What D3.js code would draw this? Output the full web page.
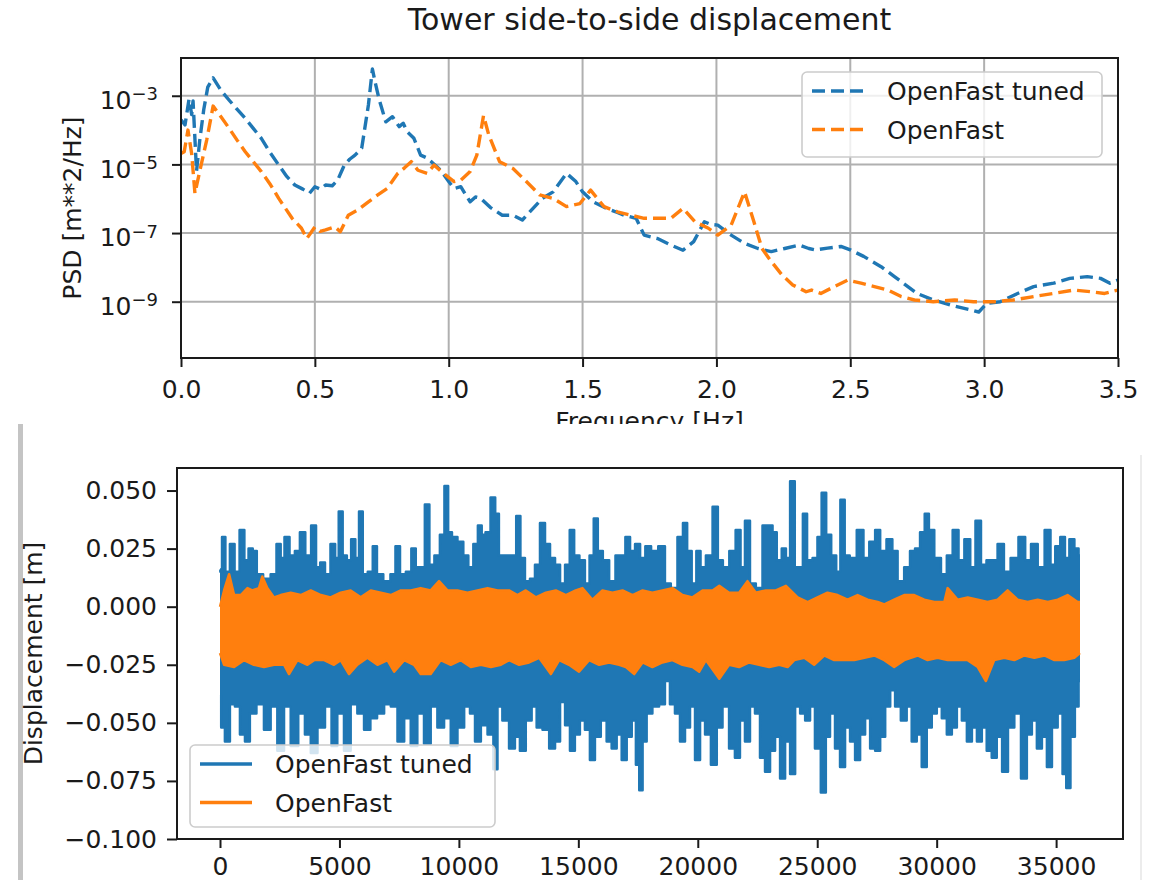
<!DOCTYPE html>
<html>
<head>
<meta charset="utf-8">
<script src="https://cdn.jsdelivr.net/npm/d3@7"></script>
<style>
  body { margin: 0; background: #fff; }
  svg { display: block; font-family: "DejaVu Sans", sans-serif; }
</style>
</head>
<body>
<svg id="chart" width="1153" height="880"></svg>
<script>
const blue = "#1f77b4";
const orange = "#ff7f0e";
const ink = "#1a1a1a";

const seriesNames = ["OpenFast tuned", "OpenFast"];
const freqTicks = [0, 0.5, 1, 1.5, 2, 2.5, 3, 3.5];
const psdTicks = [1e-3, 1e-5, 1e-7, 1e-9];
const timeTicks = [0, 5000, 10000, 15000, 20000, 25000, 30000, 35000];
const dispTicks = [0.05, 0.025, 0, -0.025, -0.05, -0.075, -0.1];

// PSD: [frequency Hz, log10(PSD m**2/Hz)]
const psdTuned = [
  [0.000,-3.70],[0.015,-3.85],[0.030,-3.10],[0.040,-3.55],[0.045,-3.15],[0.058,-5.20],[0.070,-4.30],[0.085,-3.40],
  [0.100,-2.75],[0.120,-2.48],[0.150,-2.85],[0.180,-3.13],[0.210,-3.40],[0.240,-3.66],[0.270,-3.95],[0.300,-4.24],
  [0.330,-4.62],[0.365,-5.02],[0.395,-5.35],[0.425,-5.60],[0.455,-5.72],[0.480,-5.84],[0.500,-5.65],[0.520,-5.72],
  [0.540,-5.60],[0.565,-5.62],[0.585,-5.46],[0.610,-5.02],[0.630,-4.85],[0.650,-4.73],[0.675,-4.53],[0.700,-3.27],
  [0.715,-2.22],[0.725,-2.60],[0.740,-3.10],[0.765,-3.76],[0.790,-3.61],[0.815,-3.90],[0.830,-3.80],[0.845,-4.05],
  [0.870,-4.24],[0.895,-4.73],[0.915,-4.80],[0.935,-4.92],[0.970,-5.17],[1.000,-5.50],[1.020,-5.70],[1.045,-5.65],
  [1.080,-6.09],[1.100,-5.95],[1.120,-5.99],[1.155,-6.25],[1.200,-6.48],[1.240,-6.48],[1.275,-6.62],[1.315,-6.28],
  [1.350,-5.99],[1.390,-5.80],[1.440,-5.26],[1.475,-5.50],[1.500,-5.80],[1.540,-6.09],[1.590,-6.28],[1.630,-6.40],
  [1.655,-6.48],[1.700,-6.57],[1.730,-7.06],[1.780,-7.16],[1.830,-7.35],[1.875,-7.50],[1.915,-7.25],[1.955,-6.67],
  [1.980,-6.75],[2.005,-6.77],[2.055,-7.06],[2.105,-7.30],[2.155,-7.45],[2.205,-7.54],[2.255,-7.45],[2.310,-7.35],
  [2.345,-7.45],[2.370,-7.49],[2.415,-7.44],[2.465,-7.39],[2.500,-7.49],[2.550,-7.68],[2.615,-7.98],[2.665,-8.27],
  [2.715,-8.56],[2.750,-8.76],[2.810,-8.95],[2.875,-9.10],[2.950,-9.24],[2.980,-9.30],[3.010,-9.05],[3.060,-9.00],
  [3.125,-8.76],[3.185,-8.56],[3.260,-8.46],[3.320,-8.32],[3.385,-8.27],[3.435,-8.32],[3.470,-8.46],[3.500,-8.37]
];
const psdBase = [
  [0.000,-4.68],[0.012,-4.63],[0.026,-4.00],[0.040,-4.70],[0.052,-5.84],[0.070,-5.20],[0.096,-4.29],[0.120,-3.30],
  [0.150,-3.62],[0.180,-3.95],[0.210,-4.30],[0.240,-4.63],[0.270,-4.92],[0.300,-5.21],[0.335,-5.60],[0.365,-5.99],
  [0.415,-6.57],[0.450,-6.86],[0.470,-7.16],[0.500,-6.82],[0.520,-6.95],[0.540,-6.91],[0.575,-6.82],[0.595,-6.96],
  [0.625,-6.48],[0.660,-6.33],[0.700,-6.09],[0.735,-5.89],[0.770,-5.70],[0.810,-5.26],[0.835,-5.10],[0.860,-4.92],
  [0.885,-5.17],[0.920,-5.26],[0.945,-5.02],[0.980,-5.26],[1.020,-5.50],[1.045,-5.46],[1.080,-5.21],[1.105,-4.73],
  [1.130,-3.58],[1.150,-4.15],[1.190,-4.92],[1.240,-5.12],[1.290,-5.50],[1.340,-5.89],[1.390,-5.99],[1.440,-6.23],
  [1.490,-6.14],[1.530,-5.75],[1.580,-6.23],[1.630,-6.38],[1.680,-6.48],[1.730,-6.57],[1.780,-6.57],[1.830,-6.57],
  [1.875,-6.28],[1.920,-6.67],[1.970,-6.86],[2.005,-7.06],[2.055,-6.77],[2.090,-6.09],[2.105,-5.80],[2.140,-6.67],
  [2.170,-7.45],[2.205,-7.83],[2.245,-8.22],[2.285,-8.51],[2.335,-8.71],[2.355,-8.66],[2.390,-8.76],[2.440,-8.56],
  [2.490,-8.37],[2.540,-8.46],[2.590,-8.56],[2.640,-8.66],[2.690,-8.85],[2.740,-8.95],[2.810,-9.00],[2.890,-8.95],
  [2.960,-9.00],[3.040,-9.00],[3.110,-8.95],[3.185,-8.85],[3.260,-8.76],[3.335,-8.66],[3.400,-8.71],[3.450,-8.76],
  [3.500,-8.66]
];

// displacement time series, drawn as the envelope of the fast oscillation: [time, mm]
const tunedTop = [
  [0,16],[30,15],[140,30],[310,15],[520,27],[700,15],[940,33],[1100,20],[1290,25],[1450,24],[1630,14],[1980,12],
  [2260,14],[2470,27],[2610,21],[2790,30],[3030,22],[3240,24],[3450,32],[3690,22],[3940,35],[4100,17],[4290,19],
  [4500,14],[4750,27],[4890,21],[5050,41],[5220,22],[5400,20],[5580,29],[5750,21],[5890,41],[6060,14],[6310,15],
  [6480,26],[6660,14],[7010,11],[7260,14],[7430,26],[7640,14],[7920,15],[8100,25],[8290,17],[8470,17],[8680,44],
  [8850,18],[9100,22],[9310,31],[9480,52],[9620,32],[9800,30],[10080,28],[10290,22],[10500,17],[10710,27],
  [10880,35],[11030,31],[11200,32],[11450,47],[11590,40],[11760,22],[11890,22],[12100,22],[12310,22],[12490,39],
  [12660,21],[12870,11],[13080,12],[13290,18],[13500,36],[13710,27],[13920,21],[14130,18],[14340,10],[14550,18],
  [14730,33],[14920,22],[15170,20],[15380,10],[15560,22],[15730,38],[15900,24],[16150,20],[16430,11],[16680,22],
  [16880,22],[17060,30],[17270,24],[17480,27],[17690,21],[17920,26],[18170,24],[18520,26],[18730,10],[19010,8],
  [19290,30],[19470,36],[19640,24],[19850,10],[20030,24],[20200,17],[20480,22],[20760,43],[20920,20],[21180,17],
  [21460,24],[21710,33],[21870,17],[22080,37],[22290,10],[22570,8],[22850,35],[23060,35],[23200,32],[23410,20],
  [23620,25],[23760,21],[23970,54],[24150,17],[24320,17],[24480,40],[24670,20],[24940,21],[25080,30],[25290,49],
  [25460,31],[25710,22],[25880,15],[26060,46],[26240,22],[26480,21],[26830,33],[27040,21],[27320,28],[27530,33],
  [27740,24],[28060,29],[28230,24],[28500,11],[28780,17],[28990,24],[29200,25],[29410,32],[29590,40],[29760,33],
  [30040,21],[30320,14],[30530,22],[30810,33],[31020,20],[31300,29],[31510,17],[31740,37],[31970,18],[32200,20],
  [32410,20],[32690,27],[32940,15],[33250,21],[33600,30],[33810,20],[34090,27],[34370,17],[34670,33],[34860,18],
  [35070,26],[35280,30],[35460,21],[35650,29],[35880,25],[36000,22]
];
const tunedBottom = [
  [0,-38],[100,-52],[310,-58],[520,-42],[730,-43],[940,-55],[1150,-58],[1350,-46],[1700,-42],[1980,-53],[2260,-43],
  [2540,-62],[2820,-43],[3100,-60],[3450,-46],[3660,-55],[3940,-63],[4220,-52],[4570,-43],[4770,-60],[5050,-46],
  [5330,-62],[5610,-42],[5890,-46],[6170,-53],[6420,-48],[6730,-46],[7010,-42],[7290,-43],[7570,-58],[7850,-48],
  [8120,-60],[8400,-46],[8680,-59],[8960,-43],[9240,-52],[9520,-48],[9800,-60],[10080,-52],[10360,-43],[10570,-46],
  [10780,-58],[11060,-51],[11340,-55],[11550,-70],[11680,-43],[11960,-49],[12240,-61],[12450,-56],[12660,-62],
  [12940,-49],[13150,-43],[13360,-52],[13640,-53],[13920,-61],[14130,-58],[14340,-41],[14550,-51],[14750,-62],
  [14960,-55],[15170,-49],[15380,-53],[15590,-66],[15800,-56],[16080,-49],[16290,-58],[16500,-61],[16710,-55],
  [16920,-66],[17130,-56],[17340,-49],[17480,-68],[17620,-79],[17760,-58],[17960,-46],[18240,-43],[18520,-42],
  [18730,-32],[18940,-42],[19150,-46],[19360,-58],[19570,-52],[19780,-43],[19990,-66],[20200,-49],[20410,-55],
  [20690,-68],[20900,-52],[21170,-43],[21450,-61],[21660,-65],[21870,-49],[22080,-58],[22290,-43],[22500,-46],
  [22710,-65],[22920,-71],[23130,-62],[23340,-56],[23550,-74],[23760,-58],[23970,-72],[24180,-43],[24390,-46],
  [24600,-49],[24800,-43],[25010,-61],[25290,-80],[25430,-56],[25640,-46],[25850,-61],[26060,-69],[26270,-52],
  [26480,-58],[26690,-66],[26900,-55],[27110,-48],[27320,-61],[27530,-62],[27740,-56],[27950,-43],[28160,-36],
  [28360,-43],[28640,-49],[28850,-43],[29060,-58],[29270,-55],[29480,-69],[29690,-52],[29900,-46],[30110,-43],
  [30320,-48],[30530,-55],[30740,-52],[30950,-43],[31160,-49],[31370,-58],[31580,-52],[31790,-58],[31990,-52],
  [32200,-62],[32410,-65],[32620,-56],[32860,-71],[33110,-52],[33390,-46],[33670,-74],[33880,-55],[34090,-49],
  [34300,-61],[34510,-56],[34720,-69],[34930,-52],[35200,-46],[35340,-72],[35510,-78],[35690,-56],[35880,-43],
  [36000,-32]
];
const baseTop = [
  [0,0],[170,7],[380,14],[590,5],[870,5],[1150,8],[1350,7],[1630,8],[1770,13],[1980,8],[2260,4],[2540,5],[2960,6],
  [3380,5],[3800,7],[4220,5],[4630,4],[5050,6],[5470,7],[5890,4],[6310,7],[6730,6],[7150,5],[7570,7],[7990,7],
  [8400,8],[8820,7],[9170,11],[9520,7],[9940,7],[10360,6],[10780,7],[11200,8],[11620,7],[12100,7],[12450,5],
  [12800,7],[13220,4],[13640,6],[14060,7],[14480,5],[14890,7],[15170,8],[15590,3],[16010,7],[16430,6],[16850,7],
  [17270,5],[17690,7],[18100,6],[18520,7],[18940,8],[19360,5],[19780,4],[20200,7],[20620,7],[20900,9],[21310,6],
  [21730,6],[22080,11],[22430,6],[22850,7],[23270,7],[23690,9],[24180,4],[24600,2],[25010,4],[25430,6],[25850,5],
  [26270,3],[26690,5],[27110,3],[27530,2],[27810,1],[28220,3],[28640,5],[29060,5],[29480,3],[29900,2],[30320,2],
  [30460,8],[30880,3],[31300,4],[31720,3],[32130,2],[32550,3],[32970,7],[33390,3],[33810,2],[34230,3],[34650,2],
  [35070,3],[35480,5],[35900,2],[36000,2]
];
const baseBottom = [
  [0,-20],[170,-25],[590,-26],[1000,-23],[1420,-25],[1840,-26],[2260,-25],[2680,-25],[2890,-29],[3240,-23],
  [3660,-25],[3940,-23],[4360,-23],[4770,-25],[5050,-23],[5400,-29],[5750,-25],[6170,-22],[6590,-25],[7010,-23],
  [7290,-28],[7710,-23],[8120,-25],[8400,-29],[8820,-29],[9240,-23],[9660,-25],[10080,-23],[10500,-26],[10920,-25],
  [11340,-26],[11760,-25],[12100,-23],[12520,-25],[12940,-24],[13360,-22],[13850,-29],[14200,-23],[14610,-25],
  [15030,-28],[15450,-23],[15870,-25],[16290,-24],[16710,-25],[16990,-26],[17340,-29],[17690,-24],[18100,-26],
  [18520,-24],[18940,-23],[19360,-25],[19780,-26],[20060,-28],[20340,-23],[20900,-31],[21310,-25],[21730,-26],
  [22150,-24],[22570,-25],[22990,-26],[23410,-25],[23760,-26],[24040,-23],[24460,-22],[24870,-25],[25290,-21],
  [25710,-23],[26130,-23],[26550,-23],[26970,-22],[27390,-21],[27810,-23],[28220,-26],[28640,-23],[29200,-21],
  [29620,-23],[30040,-22],[30460,-23],[30880,-23],[31300,-23],[31720,-26],[32060,-32],[32410,-23],[32830,-22],
  [33250,-23],[33670,-21],[34090,-22],[34510,-21],[34930,-23],[35340,-23],[35760,-22],[36000,-20]
];

const svg = d3.select("#chart");

function styleAxis(g) {
  g.select(".domain").remove();
  g.attr("font-size", 25).attr("font-family", "DejaVu Sans, sans-serif");
  g.selectAll(".tick line").attr("stroke", ink).attr("stroke-width", 2);
  g.selectAll(".tick text").attr("fill", ink);
}

// ---------- top: PSD ----------
const psdBox = { left: 181, right: 1118, top: 58, bottom: 358 };
const fx = d3.scaleLinear().domain([0, 3.5]).range([psdBox.left, psdBox.right]);
const fy = d3.scaleLog().domain([10 ** -10.64, 10 ** -1.9]).range([psdBox.bottom, psdBox.top]);

svg.append("defs").append("clipPath").attr("id", "psdClip")
  .append("rect").attr("x", psdBox.left).attr("y", psdBox.top)
  .attr("width", psdBox.right - psdBox.left).attr("height", psdBox.bottom - psdBox.top);

const grid = svg.append("g").attr("stroke", "#b0b0b0").attr("stroke-width", 2);
grid.selectAll(".vx").data(freqTicks).join("line")
  .attr("x1", d => fx(d)).attr("x2", d => fx(d)).attr("y1", psdBox.top).attr("y2", psdBox.bottom);
grid.selectAll(".hy").data(psdTicks).join("line")
  .attr("x1", psdBox.left).attr("x2", psdBox.right).attr("y1", d => fy(d)).attr("y2", d => fy(d));

const psdLine = d3.line().x(d => fx(d[0])).y(d => fy(10 ** d[1]));
const psdSeries = [psdTuned, psdBase];
svg.append("g").attr("clip-path", "url(#psdClip)")
  .selectAll("path").data(psdSeries).join("path")
  .attr("d", psdLine)
  .attr("fill", "none")
  .attr("stroke", (d, i) => i === 0 ? blue : orange)
  .attr("stroke-width", 3.4)
  .attr("stroke-dasharray", "13,6")
  .attr("stroke-linejoin", "round");

svg.append("g").attr("transform", `translate(0,${psdBox.bottom})`)
  .call(d3.axisBottom(fx).tickValues(freqTicks).tickFormat(d3.format(".1f"))
    .tickSizeInner(9).tickSizeOuter(0).tickPadding(13))
  .call(styleAxis);

const yTop = svg.append("g").attr("transform", `translate(${psdBox.left},0)`)
  .call(d3.axisLeft(fy).tickValues(psdTicks).tickFormat(() => "")
    .tickSizeInner(9).tickSizeOuter(0))
  .call(styleAxis);
yTop.selectAll(".tick text").each(function (d) {
  const t = d3.select(this).attr("x", -23).attr("dy", null).attr("y", 12.6).attr("text-anchor", "end");
  t.append("tspan").text("10");
  t.append("tspan").attr("font-size", 18).attr("dy", -8.5).text("\u2212" + Math.round(-Math.log10(d)));
});

svg.append("rect").attr("x", psdBox.left).attr("y", psdBox.top)
  .attr("width", psdBox.right - psdBox.left).attr("height", psdBox.bottom - psdBox.top)
  .attr("fill", "none").attr("stroke", ink).attr("stroke-width", 2);

svg.append("text").attr("x", (psdBox.left + psdBox.right) / 2).attr("y", 30)
  .attr("text-anchor", "middle").attr("font-size", 30).attr("fill", ink)
  .text("Tower side-to-side displacement");
svg.append("text").attr("transform", `translate(81,${(psdBox.top + psdBox.bottom) / 2}) rotate(-90)`)
  .attr("text-anchor", "middle").attr("font-size", 25).attr("fill", ink)
  .text("PSD [m**2/Hz]");
svg.append("text").attr("x", (psdBox.left + psdBox.right) / 2).attr("y", 430)
  .attr("text-anchor", "middle").attr("font-size", 25).attr("fill", ink)
  .text("Frequency [Hz]");

function legend(x, y, w, h, rows, dashed) {
  const g = svg.append("g");
  g.append("rect").attr("x", x).attr("y", y).attr("width", w).attr("height", h).attr("rx", 5)
    .attr("fill", "#fff").attr("fill-opacity", 0.8).attr("stroke", "#cccccc").attr("stroke-width", 1.6);
  rows.forEach((r, i) => {
    const cy = y + 19 + i * 38.5;
    g.append("line").attr("x1", x + 10).attr("x2", x + 62).attr("y1", cy).attr("y2", cy)
      .attr("stroke", r.color).attr("stroke-width", 3.4)
      .attr("stroke-dasharray", dashed ? "13,6" : null);
    g.append("text").attr("x", x + 85).attr("y", cy + 9).attr("font-size", 25).attr("fill", ink).text(r.name);
  });
}
legend(802, 72, 300, 85, seriesNames.map((n, i) => ({ name: n, color: i === 0 ? blue : orange })), true);

// ---------- bottom: time series (second screenshot pasted underneath) ----------
svg.append("rect").attr("x", 0).attr("y", 424).attr("width", 1153).attr("height", 456).attr("fill", "#fff");
svg.append("rect").attr("x", 18).attr("y", 424).attr("width", 5).attr("height", 456).attr("fill", "#c4c4c4");
svg.append("line").attr("x1", 1141).attr("x2", 1141).attr("y1", 455).attr("y2", 880)
  .attr("stroke", "#ececec").attr("stroke-width", 2);

const dispBox = { left: 177, right: 1123, top: 468, bottom: 839 };
const tx = d3.scaleLinear().domain([-1800, 37800]).range([dispBox.left, dispBox.right]);
const dy = d3.scaleLinear().domain([-0.1, 0.0597]).range([dispBox.bottom, dispBox.top]);

svg.select("defs").append("clipPath").attr("id", "dispClip")
  .append("rect").attr("x", dispBox.left).attr("y", dispBox.top)
  .attr("width", dispBox.right - dispBox.left).attr("height", dispBox.bottom - dispBox.top);

// blue envelope is spiky (narrow bursts) -> step curve; orange is a tight band -> linear
const plot = svg.append("g").attr("clip-path", "url(#dispClip)");
const bands = [
  { data: tunedTop, mid: -0.012, color: blue, curve: d3.curveStep },
  { data: tunedBottom, mid: -0.008, color: blue, curve: d3.curveStep },
  { data: baseTop, mid: -0.010, color: orange, curve: d3.curveLinear },
  { data: baseBottom, mid: -0.010, color: orange, curve: d3.curveLinear }
];
bands.forEach(b => {
  const area = d3.area().curve(b.curve).x(d => tx(d[0])).y0(dy(b.mid)).y1(d => dy(d[1] / 1000));
  const edge = d3.line().curve(b.curve).x(d => tx(d[0])).y(d => dy(d[1] / 1000));
  plot.append("path").attr("d", area(b.data)).attr("fill", b.color);
  plot.append("path").attr("d", edge(b.data)).attr("fill", "none")
    .attr("stroke", b.color).attr("stroke-width", 2.5).attr("stroke-linejoin", "round");
});

svg.append("g").attr("transform", `translate(0,${dispBox.bottom})`)
  .call(d3.axisBottom(tx).tickValues(timeTicks).tickFormat(d3.format("d"))
    .tickSizeInner(9).tickSizeOuter(0).tickPadding(9))
  .call(styleAxis);
svg.append("g").attr("transform", `translate(${dispBox.left},0)`)
  .call(d3.axisLeft(dy).tickValues(dispTicks).tickFormat(d3.format(".3f"))
    .tickSizeInner(10).tickSizeOuter(0).tickPadding(10))
  .call(styleAxis);

svg.append("rect").attr("x", dispBox.left).attr("y", dispBox.top)
  .attr("width", dispBox.right - dispBox.left).attr("height", dispBox.bottom - dispBox.top)
  .attr("fill", "none").attr("stroke", ink).attr("stroke-width", 2);

svg.append("text").attr("transform", `translate(42,${(dispBox.top + dispBox.bottom) / 2}) rotate(-90)`)
  .attr("text-anchor", "middle").attr("font-size", 25).attr("fill", ink)
  .text("Displacement [m]");

legend(190, 745, 305, 82, seriesNames.map((n, i) => ({ name: n, color: i === 0 ? blue : orange })), false);
</script>
</body>
</html>
